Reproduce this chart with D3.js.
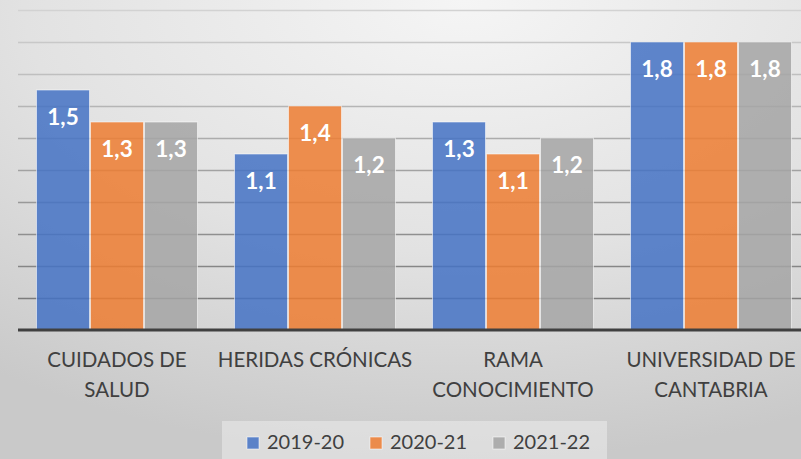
<!DOCTYPE html>
<html>
<head>
<meta charset="utf-8">
<script src="https://cdn.jsdelivr.net/npm/d3@7"></script>
<style>
	html, body { margin: 0; padding: 0; overflow: hidden; }
	svg { display: block; font-family: Lato, "Open Sans", sans-serif; }
</style>
</head>
<body>
<div id="chart"></div>
<script>
var categories = [
	["CUIDADOS DE", "SALUD"],
	["HERIDAS CRÓNICAS"],
	["RAMA", "CONOCIMIENTO"],
	["UNIVERSIDAD DE", "CANTABRIA"]
];
var seriesNames = ["2019-20", "2020-21", "2021-22"];
var values2019 = [1.5, 1.1, 1.3, 1.8];
var values2020 = [1.3, 1.4, 1.1, 1.8];
var values2021 = [1.3, 1.2, 1.2, 1.8];
var yTicks = [0.2, 0.4, 0.6, 0.8, 1.0, 1.2, 1.4, 1.6, 1.8, 2.0];

(function() {
	"use strict";

	var width = 801,
		height = 459,
		colors = ["#4472C4", "#ED7D31", "#A5A5A5"],
		seriesValues = [values2019, values2020, values2021],
		catKeys = categories.map(function(d) { return d.join(" "); }),
		fmt = d3.formatLocale({decimal: ",", thousands: ".", grouping: [3], currency: ["", "€"]}).format(".1f");

	var x0 = d3.scaleBand()
			.domain(catKeys)
			.range([18, 810])
			.paddingInner(36 / 198)
			.paddingOuter(18 / 198),
		x1 = d3.scaleBand()
			.domain(seriesNames)
			.range([0, x0.bandwidth()]),
		y = d3.scaleLinear()
			.domain([0, 2])
			.range([330, 10]);

	var svg = d3.select("#chart")
		.append("svg")
		.attr("width", width)
		.attr("height", height);

	var defs = svg.append("defs");
	var bg = defs.append("radialGradient")
		.attr("id", "bg")
		.attr("cx", "0.58").attr("cy", "0")
		.attr("r", "1");
	bg.append("stop").attr("offset", "0").attr("stop-color", "#f5f5f5");
	bg.append("stop").attr("offset", "0.55").attr("stop-color", "#e2e2e2");
	bg.append("stop").attr("offset", "1").attr("stop-color", "#c9c9c9");

	svg.append("rect")
		.attr("width", width)
		.attr("height", height)
		.attr("fill", "url(#bg)");

	// gridlines, darker towards the bottom
	var gridColor = d3.scaleLinear()
		.domain([2, 0.2])
		.range(["#d2d2d2", "#7c7c7c"]);

	var grid = svg.append("g")
		.attr("class", "grid")
		.attr("transform", "translate(18,0)")
		.call(d3.axisLeft(y)
			.tickValues(yTicks)
			.tickSize(-(810 - 18))
			.tickFormat(""));
	grid.select(".domain").remove();
	grid.selectAll(".tick line")
		.attr("stroke", function(d) { return gridColor(d); })
		.attr("stroke-width", 1.5);

	// bars
	var rows = catKeys.map(function(c, i) {
		return seriesNames.map(function(s, j) {
			return {cat: c, series: s, value: seriesValues[j][i], color: colors[j]};
		});
	});

	var groups = svg.append("g")
		.selectAll("g.group")
		.data(rows)
		.enter()
		.append("g")
		.classed("group", true)
		.attr("transform", function(d, i) { return "translate(" + x0(catKeys[i]) + ",0)"; });

	groups.selectAll("rect")
		.data(function(d) { return d; })
		.enter()
		.append("rect")
		.attr("x", function(d) { return x1(d.series) + 0.5; })
		.attr("y", function(d) { return y(d.value); })
		.attr("width", x1.bandwidth() - 1)
		.attr("height", function(d) { return y(0) - y(d.value); })
		.attr("fill", function(d) { return d.color; })
		.attr("fill-opacity", 0.85)
		.attr("stroke", "rgba(255,255,255,0.55)")
		.attr("stroke-width", 1);

	groups.selectAll("text")
		.data(function(d) { return d; })
		.enter()
		.append("text")
		.attr("x", function(d) { return x1(d.series) + x1.bandwidth() / 2; })
		.attr("y", function(d) { return y(d.value) + 35; })
		.attr("text-anchor", "middle")
		.attr("fill", "#ffffff")
		.attr("font-size", 22.5)
		.attr("font-weight", "bold")
		.text(function(d) { return fmt(d.value); });

	// baseline
	svg.append("line")
		.attr("x1", 18).attr("x2", 810)
		.attr("y1", y(0)).attr("y2", y(0))
		.attr("stroke", "#404040")
		.attr("stroke-width", 3);

	// category labels
	var labels = svg.append("g")
		.selectAll("text")
		.data(categories)
		.enter()
		.append("text")
		.attr("text-anchor", "middle")
		.attr("fill", "#404040")
		.attr("font-size", 20.5);
	labels.selectAll("tspan")
		.data(function(d, i) { return d.map(function(t) { return {t: t, i: i}; }); })
		.enter()
		.append("tspan")
		.attr("x", function(d) { return x0(catKeys[d.i]) + x0.bandwidth() / 2; })
		.attr("y", function(d, k) { return 367 + k * 30; })
		.text(function(d) { return d.t; });

	// legend
	var legend = svg.append("g");
	legend.append("rect")
		.attr("x", 222).attr("y", 421)
		.attr("width", 385).attr("height", 40)
		.attr("fill", "#f4f4f4")
		.attr("fill-opacity", 0.45);

	var item = legend.selectAll("g.item")
		.data(seriesNames)
		.enter()
		.append("g")
		.classed("item", true)
		.attr("transform", function(d, i) { return "translate(" + (247 + i * 123) + ",0)"; });
	item.append("rect")
		.attr("x", 0).attr("y", 437)
		.attr("width", 12).attr("height", 12)
		.attr("fill", function(d, i) { return colors[i]; })
		.attr("fill-opacity", 0.85)
		.attr("stroke", "rgba(255,255,255,0.55)");
	item.append("text")
		.attr("x", 20).attr("y", 449)
		.attr("fill", "#404040")
		.attr("font-size", 20)
		.text(function(d) { return d; });
})();
</script>
</body>
</html>
